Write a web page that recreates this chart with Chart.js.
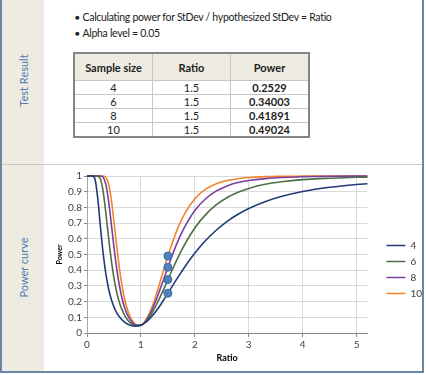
<!DOCTYPE html>
<html>
<head>
<meta charset="utf-8">
<script src="https://cdn.jsdelivr.net/npm/chart.js@4.4.1/dist/chart.umd.min.js"></script>
<style>
  body { margin: 0; background: #fff; font-family: Lato, "Open Sans", sans-serif; }
  #page { position: relative; width: 426px; height: 375px; overflow: hidden; background: #fff; }
  .abs { position: absolute; }
  #side { left: 2px; top: 0; width: 42px; height: 371px; background: #eeebe2; }
  #bl { left: 0; top: 0; width: 2px; height: 373px; background: #6b87a3; }
  #bb { left: 0; top: 371px; width: 424px; height: 2px; background: #6b87a3; }
  #br { left: 422px; top: 0; width: 2px; height: 373px; background: #6b87a3; }
  #div { left: 2px; top: 164px; width: 420px; height: 1px; background: #c9c9c9; }
  .sideLabel { width: 120px; text-align: center; color: #4f7bb0; font-size: 11px; transform: rotate(-90deg); }
  #lbl1 { left: -37px; top: 74px; }
  #lbl2 { left: -37px; top: 261px; }
  ul { position: absolute; left: 75px; top: 10px; margin: 0; padding: 0; list-style: none; font-size: 10.5px; letter-spacing: -0.3px; color: #222; }
  li { line-height: 14.5px; }
  li:before { content: "\25CF"; font-size: 8px; margin-right: 3px; position: relative; top: -1px; }
  table { position: absolute; left: 73px; top: 52px; width: 231px; table-layout: fixed; border-collapse: collapse; border: 2px solid #858585; font-size: 11px; color: #222; }
  th { width: 77px; background: #eeebe2; height: 26px; font-weight: bold; border-left: 1px solid #c6c6c6; border-bottom: 1px solid #c6c6c6; padding: 0; }
  td { height: 13px; text-align: center; border-left: 1px solid #c6c6c6; border-top: 1px solid #c6c6c6; padding: 0; line-height: 13px; }
  td.b { font-weight: bold; }
  #wrap { left: 45px; top: 168px; width: 377px; height: 203px; overflow: hidden; }
</style>
</head>
<body>
<div id="page">
  <div id="side" class="abs"></div>
  <div id="bl" class="abs"></div>
  <div id="br" class="abs"></div>
  <div id="div" class="abs"></div>
  <div id="lbl1" class="abs sideLabel">Test Result</div>
  <div id="lbl2" class="abs sideLabel">Power curve</div>
  <ul>
    <li>Calculating power for StDev / hypothesized StDev = Ratio</li>
    <li>Alpha level = 0.05</li>
  </ul>
  <table id="result">
    <thead><tr><th>Sample size</th><th>Ratio</th><th>Power</th></tr></thead>
    <tbody></tbody>
  </table>
  <div id="wrap" class="abs"><canvas id="power-curve" width="387" height="203"></canvas></div>
  <div id="bb" class="abs"></div>
</div>
<script>
// Test result table
const sampleSizes = [4, 6, 8, 10];
const testRatio = 1.5;
const testPower = [0.2529, 0.34003, 0.41891, 0.49024];

// Power curve
const ratio = [0, 0.05, 0.1, 0.15, 0.2, 0.25, 0.3, 0.35, 0.4, 0.45, 0.5, 0.55, 0.6, 0.65, 0.7, 0.75, 0.8, 0.9, 1.0,
  1.1, 1.2, 1.3, 1.4, 1.5, 1.6, 1.7, 1.8, 2.0, 2.2, 2.4, 2.6, 2.8, 3.0, 3.3, 3.6, 4.0, 4.5, 5.0, 5.2];
const power4 = [1, 1, 1, 0.978, 0.855, 0.673, 0.506, 0.377, 0.282, 0.215, 0.166, 0.130, 0.104, 0.084, 0.068, 0.057, 0.049, 0.043, 0.050,
  0.071, 0.105, 0.148, 0.199, 0.2529, 0.308, 0.362, 0.414, 0.509, 0.589, 0.656, 0.711, 0.756, 0.793, 0.836, 0.869, 0.901, 0.928, 0.946, 0.951];
const power6 = [1, 1, 1, 1, 0.999, 0.979, 0.900, 0.763, 0.607, 0.466, 0.350, 0.261, 0.195, 0.147, 0.111, 0.085, 0.066, 0.047, 0.050,
  0.076, 0.124, 0.188, 0.262, 0.34003, 0.417, 0.490, 0.557, 0.669, 0.754, 0.817, 0.863, 0.897, 0.921, 0.947, 0.963, 0.977, 0.986, 0.992, 0.993];
const power8 = [1, 1, 1, 1, 1, 1, 0.991, 0.945, 0.841, 0.697, 0.546, 0.411, 0.303, 0.220, 0.159, 0.115, 0.085, 0.051, 0.050,
  0.081, 0.142, 0.226, 0.321, 0.41891, 0.512, 0.596, 0.668, 0.780, 0.855, 0.905, 0.937, 0.958, 0.971, 0.983, 0.990, 0.995, 0.998, 0.999, 0.999];
const power10 = [1, 1, 1, 1, 1, 1, 1, 0.991, 0.949, 0.852, 0.710, 0.557, 0.415, 0.300, 0.212, 0.149, 0.104, 0.055, 0.050,
  0.088, 0.160, 0.262, 0.377, 0.49024, 0.592, 0.681, 0.753, 0.855, 0.916, 0.951, 0.971, 0.983, 0.990, 0.996, 0.998, 0.999, 1, 1, 1];
const seriesColors = ["#1f3a78", "#4e6f45", "#7b3fa0", "#f0852d"];

const tbody = document.querySelector("#result tbody");
sampleSizes.forEach(function(n, i) {
  const tr = document.createElement("tr");
  tr.innerHTML = "<td>" + n + "</td><td>" + testRatio + "</td><td class='b'>" + testPower[i] + "</td>";
  tbody.appendChild(tr);
});

function toPoints(ys) {
  return ratio.map(function(r, i) { return { x: r, y: ys[i] }; });
}

const curves = [power4, power6, power8, power10].map(function(ys, i) {
  return {
    label: String(sampleSizes[i]),
    data: toPoints(ys),
    borderColor: seriesColors[i],
    backgroundColor: seriesColors[i],
    borderWidth: 1.6,
    pointRadius: 0,
    cubicInterpolationMode: "monotone",
    clip: 4
  };
});

const markers = {
  type: "scatter",
  label: "Power at ratio",
  data: testPower.map(function(p) { return { x: testRatio, y: p }; }),
  backgroundColor: "#4f81bd",
  borderColor: "#3b6aa0",
  borderWidth: 1,
  pointRadius: 4,
  clip: 6
};

Chart.defaults.font.family = "Lato, 'Open Sans', sans-serif";
Chart.defaults.color = "#404040";

new Chart(document.getElementById("power-curve").getContext("2d"), {
  type: "line",
  data: { datasets: [markers].concat(curves) },
  options: {
    responsive: false,
    animation: false,
    layout: { padding: { top: 0, left: 0, right: 0, bottom: 0 } },
    scales: {
      x: {
        type: "linear",
        min: 0,
        max: 5.2,
        ticks: { stepSize: 1, includeBounds: false, padding: 2, font: { size: 10 } },
        grid: { color: "#d9d9d9", tickColor: "#868686", tickLength: 4 },
        border: { color: "#868686" },
        title: { display: true, text: "Ratio", color: "#000", font: { size: 9, weight: "bold" }, padding: { top: 0, bottom: 8 } },
        afterFit: function(scale) { scale.height = 38; }
      },
      y: {
        min: 0,
        max: 1,
        ticks: {
          stepSize: 0.1,
          padding: 2,
          font: { size: 10 },
          callback: function(value) { return String(Math.round(value * 10) / 10); }
        },
        grid: { color: "#d9d9d9", tickColor: "#868686", tickLength: 3 },
        border: { color: "#a6a6a6" },
        title: { display: true, text: "Power", color: "#000", font: { size: 7, weight: "bold" }, padding: { top: 11, bottom: 0 } },
        afterFit: function(scale) { scale.width = 42; }
      },
      gap: {
        position: "right",
        display: true,
        grid: { display: false },
        border: { display: false },
        ticks: { display: false },
        afterFit: function(scale) { scale.width = 13; }
      }
    },
    plugins: {
      legend: {
        position: "right",
        labels: {
          usePointStyle: true,
          pointStyle: "line",
          pointStyleWidth: 19,
          padding: 6,
          color: "#404040",
          font: { size: 10 },
          filter: function(item) { return item.text !== "Power at ratio"; }
        }
      },
      tooltip: { enabled: false }
    }
  }
});
</script>
</body>
</html>
